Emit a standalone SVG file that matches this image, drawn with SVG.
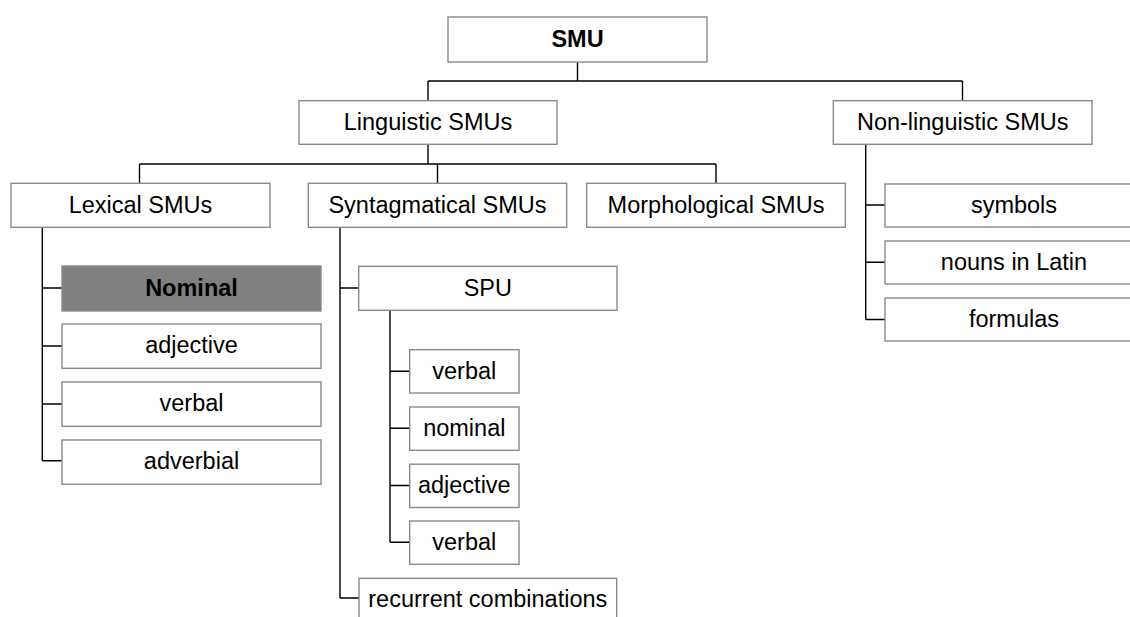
<svg xmlns="http://www.w3.org/2000/svg" width="1130" height="617" viewBox="0 0 1130 617">
  <style>
    .box { fill: #ffffff; stroke: #8a8a8a; stroke-width: 1.4; }
    .box.dark { fill: #808080; }
    .lbl { font-family: "Liberation Sans", Arial, sans-serif; font-size: 23.5px; fill: #000000; text-anchor: middle; }
    .bold { font-weight: bold; }
    .wire { fill: none; stroke: #000000; stroke-width: 1.4; }
  </style>
  <rect width="1130" height="617" fill="#ffffff"/>

  <!-- tree connectors -->
  <g id="connectors" class="wire">
    <!-- root to first level -->
    <path d="M577.5,62 V81 M428,81 H962.5 M428,81 V100.7 M962.5,81 V100.7"/>
    <!-- Linguistic SMUs to second level -->
    <path d="M428,144.3 V164 M139.5,164 H716 M139.5,164 V183.3 M437.5,164 V183.3 M716,164 V183.3"/>
    <!-- Lexical SMUs branch -->
    <path d="M42.3,227.3 V460.7 M42.3,288 H62 M42.3,346 H62 M42.3,404 H62 M42.3,460.7 H62"/>
    <!-- Syntagmatical SMUs branch -->
    <path d="M340,227.3 V598 M340,288 H359 M340,598 H359"/>
    <!-- SPU branch -->
    <path d="M390,310.3 V542.3 M390,371.3 H409.7 M390,428.3 H409.7 M390,485.5 H409.7 M390,542.3 H409.7"/>
    <!-- Non-linguistic SMUs branch -->
    <path d="M865.7,144.3 V319.5 M865.7,205 H885 M865.7,262.3 H885 M865.7,319.5 H885"/>
  </g>

  <g id="smu">
    <rect class="box" x="448" y="17" width="259" height="45"/>
    <text class="lbl bold" x="577.5" y="46.5">SMU</text>
  </g>

  <g id="linguistic">
    <rect class="box" x="299" y="100.7" width="258" height="43.6"/>
    <text class="lbl" x="428" y="129.5">Linguistic SMUs</text>
  </g>
  <g id="non-linguistic">
    <rect class="box" x="833.3" y="100.7" width="258.7" height="43.6"/>
    <text class="lbl" x="962.7" y="129.5">Non-linguistic SMUs</text>
  </g>

  <g id="lexical">
    <rect class="box" x="11" y="183.3" width="259" height="44"/>
    <text class="lbl" x="140.5" y="212.5">Lexical SMUs</text>
  </g>
  <g id="syntagmatical">
    <rect class="box" x="308.3" y="183.3" width="258.4" height="44"/>
    <text class="lbl" x="437.5" y="212.5">Syntagmatical SMUs</text>
  </g>
  <g id="morphological">
    <rect class="box" x="586.7" y="183.3" width="258.6" height="44"/>
    <text class="lbl" x="716" y="212.5">Morphological SMUs</text>
  </g>

  <!-- lexical subtypes -->
  <g id="lex-nominal">
    <rect class="box dark" x="62" y="266" width="259" height="45"/>
    <text class="lbl bold" x="191.5" y="295.5">Nominal</text>
  </g>
  <g id="lex-adjective">
    <rect class="box" x="62" y="324" width="259" height="44.3"/>
    <text class="lbl" x="191.5" y="353.3">adjective</text>
  </g>
  <g id="lex-verbal">
    <rect class="box" x="62" y="382" width="259" height="44.3"/>
    <text class="lbl" x="191.5" y="411.3">verbal</text>
  </g>
  <g id="lex-adverbial">
    <rect class="box" x="62" y="440" width="259" height="44.3"/>
    <text class="lbl" x="191.5" y="469.3">adverbial</text>
  </g>

  <!-- syntagmatical subtypes -->
  <g id="spu">
    <rect class="box" x="358.7" y="266.3" width="258.3" height="44"/>
    <text class="lbl" x="487.8" y="295.5">SPU</text>
  </g>
  <g id="spu-verbal">
    <rect class="box" x="409.7" y="349.7" width="109.3" height="43.3"/>
    <text class="lbl" x="464.3" y="378.5">verbal</text>
  </g>
  <g id="spu-nominal">
    <rect class="box" x="409.7" y="407" width="109.3" height="43.3"/>
    <text class="lbl" x="464.3" y="435.8">nominal</text>
  </g>
  <g id="spu-adjective">
    <rect class="box" x="409.7" y="464.2" width="109.3" height="43.3"/>
    <text class="lbl" x="464.3" y="493">adjective</text>
  </g>
  <g id="spu-verbal-2">
    <rect class="box" x="409.7" y="521" width="109.3" height="43.3"/>
    <text class="lbl" x="464.3" y="549.8">verbal</text>
  </g>
  <g id="recurrent">
    <rect class="box" x="359" y="578.3" width="257.7" height="44"/>
    <text class="lbl" x="487.8" y="607.3">recurrent combinations</text>
  </g>

  <!-- non-linguistic subtypes -->
  <g id="symbols">
    <rect class="box" x="885" y="184" width="258" height="43"/>
    <text class="lbl" x="1014" y="212.8">symbols</text>
  </g>
  <g id="latin-nouns">
    <rect class="box" x="885" y="241" width="258" height="43"/>
    <text class="lbl" x="1014" y="269.8">nouns in Latin</text>
  </g>
  <g id="formulas">
    <rect class="box" x="885" y="298" width="258" height="43"/>
    <text class="lbl" x="1014" y="326.8">formulas</text>
  </g>
</svg>
